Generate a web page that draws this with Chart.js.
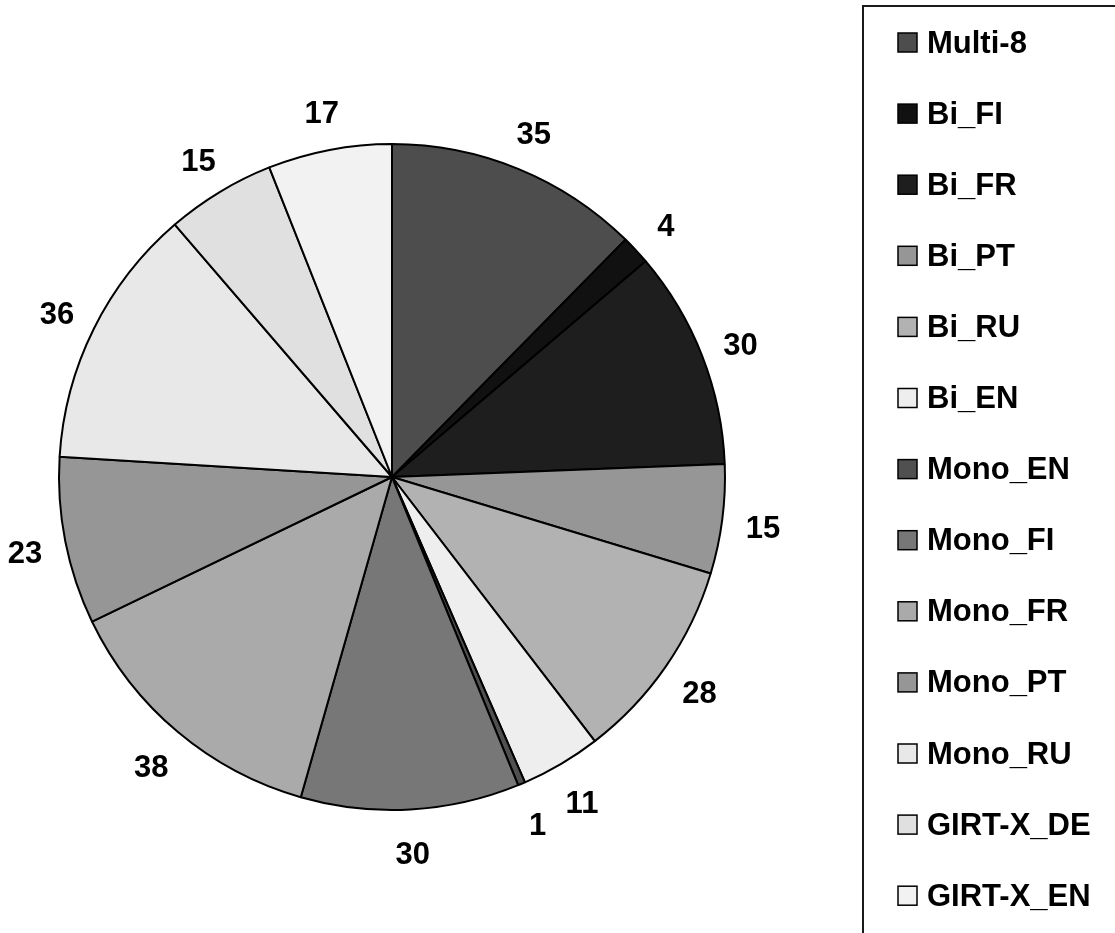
<!DOCTYPE html>
<html>
<head>
<meta charset="utf-8">
<style>
  html, body { margin: 0; padding: 0; background: #ffffff; }
  #wrap { width: 1115px; height: 933px; }
</style>
<script src="https://cdn.jsdelivr.net/npm/chart.js@4.4.1/dist/chart.umd.min.js"></script>
</head>
<body>
<div id="wrap"><canvas id="pie" width="1115" height="933"></canvas></div>
<script>
// Runs per group
const categories = ['Multi-8', 'Bi_FI', 'Bi_FR', 'Bi_PT', 'Bi_RU', 'Bi_EN', 'Mono_EN',
                    'Mono_FI', 'Mono_FR', 'Mono_PT', 'Mono_RU', 'GIRT-X_DE', 'GIRT-X_EN'];
const runCounts = [35, 4, 30, 15, 28, 11, 1, 30, 38, 23, 36, 15, 17];
const sliceColors = ['#4d4d4d', '#111111', '#1e1e1e', '#969696', '#b2b2b2', '#eeeeee', '#505050',
                     '#777777', '#aaaaaa', '#969696', '#e8e8e8', '#e0e0e0', '#f2f2f2'];

const FONT = "'Liberation Sans', Arial, Helvetica, sans-serif";

// Value labels just outside each slice
const valueLabels = {
  id: 'valueLabels',
  afterDatasetsDraw(chart) {
    const ctx = chart.ctx;
    const meta = chart.getDatasetMeta(0);
    const values = chart.data.datasets[0].data;
    ctx.save();
    ctx.font = 'bold 31px ' + FONT;
    ctx.fillStyle = '#000000';
    ctx.textAlign = 'center';
    ctx.textBaseline = 'middle';
    meta.data.forEach((arc, i) => {
      const p = arc.getProps(['x', 'y', 'startAngle', 'endAngle', 'outerRadius'], true);
      const mid = (p.startAngle + p.endAngle) / 2;
      const r = p.outerRadius + 41;
      ctx.fillText(String(values[i]), p.x + Math.cos(mid) * r, p.y + Math.sin(mid) * r + 5);
    });
    ctx.restore();
  }
};

// Framed legend on the right
const boxLegend = {
  id: 'boxLegend',
  afterDraw(chart) {
    const ctx = chart.ctx;
    const labels = chart.data.labels;
    const colors = chart.data.datasets[0].backgroundColor;
    const left = 863, top = 6, step = 71.1, firstY = 43;
    ctx.save();
    ctx.strokeStyle = '#1a1a1a';
    ctx.lineWidth = 2;
    ctx.beginPath();
    ctx.moveTo(left, chart.height + 5);
    ctx.lineTo(left, top);
    ctx.lineTo(chart.width + 5, top);
    ctx.stroke();

    ctx.font = 'bold 31px ' + FONT;
    ctx.textAlign = 'left';
    ctx.textBaseline = 'middle';
    labels.forEach((lab, i) => {
      const y = firstY + i * step;
      ctx.fillStyle = colors[i];
      ctx.fillRect(898, y - 10, 19, 19);
      ctx.lineWidth = 1.5;
      ctx.strokeStyle = '#000000';
      ctx.strokeRect(898, y - 10, 19, 19);
      ctx.fillStyle = '#000000';
      ctx.fillText(lab, 927, y + 1);
    });
    ctx.restore();
  }
};

new Chart(document.getElementById('pie'), {
  type: 'pie',
  data: {
    labels: categories,
    datasets: [{
      data: runCounts,
      backgroundColor: sliceColors,
      borderColor: '#000000',
      borderWidth: 2,
      hoverOffset: 0
    }]
  },
  options: {
    responsive: false,
    animation: false,
    events: [],
    layout: { padding: { left: 58, top: 143, right: 389, bottom: 122 } },
    plugins: {
      legend: { display: false },
      tooltip: { enabled: false },
      title: { display: false }
    }
  },
  plugins: [valueLabels, boxLegend]
});
</script>
</body>
</html>
